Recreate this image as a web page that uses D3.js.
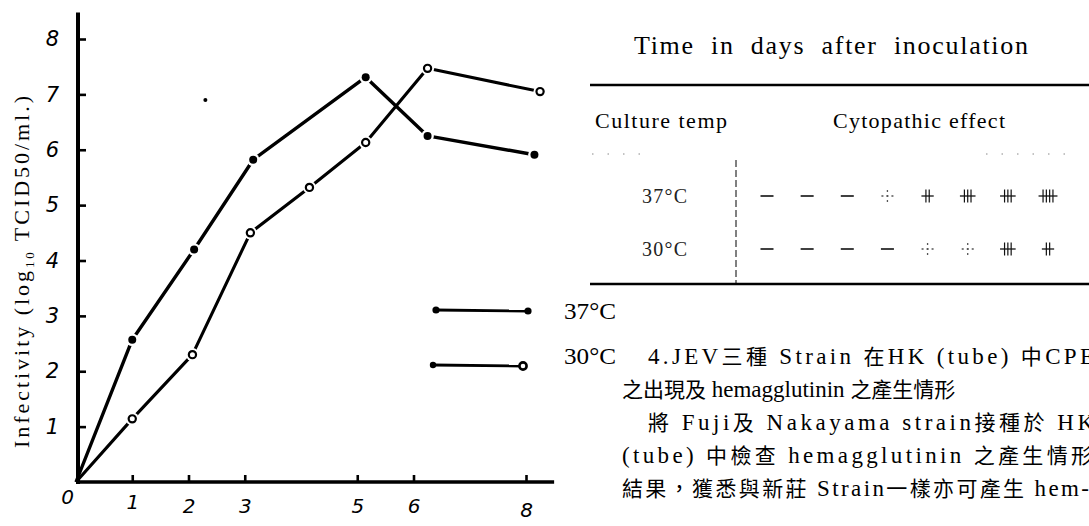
<!DOCTYPE html>
<html>
<head>
<meta charset="utf-8">
<script src="https://cdn.jsdelivr.net/npm/d3@7"></script>
<style>
  html, body { margin: 0; padding: 0; background: #fff; overflow: hidden; }
  svg { display: block; }
  .serif { font-family: "Liberation Serif", "DejaVu Serif", serif; }
  .cjk { font-family: "Liberation Serif", "Noto Sans CJK TC", serif; }
  .hand { font-family: "DejaVu Sans", sans-serif; font-style: italic; }
</style>
</head>
<body>
<svg id="chart" width="1089" height="526"></svg>
<script>
// Infectivity (log10 TCID50/ml) by day after inoculation
const days37 = [0, 1.0, 2.1, 3.15, 5.15, 6.25, 8.15];
const infect37 = [0, 2.57, 4.2, 5.82, 7.31, 6.25, 5.91];
const days30 = [0, 1.0, 2.07, 3.1, 4.15, 5.15, 6.25, 8.25];
const infect30 = [0, 1.14, 2.3, 4.5, 5.32, 6.13, 7.47, 7.05];

const xTicks = [0, 1, 2, 3, 5, 6, 8];
const yTicks = [1, 2, 3, 4, 5, 6, 7, 8];

// Cytopathic effect grades, days 1..8
const cpeDays = [1, 2, 3, 4, 5, 6, 7, 8];
const cpe37 = ["−", "−", "−", "±", "++", "+++", "+++", "++++"];
const cpe30 = ["−", "−", "−", "−", "±", "±", "+++", "++"];
const cultureTemps = ["37°C", "30°C"];

const paragraph = [
  "4.JEV三種 Strain 在HK (tube) 中CPE",
  "之出現及 hemagglutinin 之產生情形",
  "將 Fuji及 Nakayama strain接種於 HK",
  "(tube) 中檢查 hemagglutinin 之產生情形",
  "結果，獲悉與新莊 Strain一樣亦可產生 hem-"
];

const svg = d3.select("#chart");

const x = d3.scaleLinear().domain([0, 8]).range([76, 526]);
const y = d3.scaleLinear().domain([0, 8]).range([482, 39]);

// ---- axes ----
const axX = x(0) + 2;
svg.append("line")
  .attr("x1", axX).attr("x2", axX)
  .attr("y1", y(0) + 2).attr("y2", y(8.48))
  .attr("stroke", "#000").attr("stroke-width", 4);
svg.append("line")
  .attr("x1", x(0)).attr("x2", x(8.5))
  .attr("y1", y(0)).attr("y2", y(0))
  .attr("stroke", "#000").attr("stroke-width", 3.4);

const yAxis = d3.axisLeft(y).tickValues(yTicks).tickSizeInner(-8).tickSizeOuter(0).tickPadding(19);
const gy = svg.append("g").attr("transform", `translate(${axX},0)`).call(yAxis);
gy.select(".domain").remove();
gy.selectAll(".tick line").attr("stroke", "#000").attr("stroke-width", 2.6);
gy.selectAll(".tick text").attr("class", "hand").attr("font-size", 21).attr("fill", "#000");

const xAxis = d3.axisBottom(x).tickValues(xTicks).tickSizeInner(-7).tickSizeOuter(0).tickPadding(17);
const gx = svg.append("g").attr("transform", `translate(0,${y(0)})`).call(xAxis);
gx.select(".domain").remove();
gx.selectAll(".tick line").attr("stroke", "#000").attr("stroke-width", 2.6)
  .attr("display", d => d === 0 ? "none" : null);
gx.selectAll(".tick text").attr("class", "hand").attr("font-size", 20).attr("fill", "#000")
  .attr("dx", d => d === 0 ? -9 : 0)
  .attr("y", d => d === 0 ? 8 : d < 2 ? 13 : d === 8 ? 21 : 17);

// y axis title
const yt = svg.append("text").attr("class", "serif")
  .attr("transform", `translate(29,272) rotate(-90)`)
  .attr("text-anchor", "middle")
  .attr("font-size", 22)
  .attr("textLength", 352).attr("lengthAdjust", "spacing");
yt.append("tspan").text("Infectivity (log");
yt.append("tspan").attr("font-size", 13).attr("dy", 5).text("10");
yt.append("tspan").attr("dy", -5).text(" TCID50/ml.)");

// ---- series ----
const line = d3.line().x(d => x(d[0])).y(d => y(d[1]));
const pts37 = days37.map((d, i) => [d, infect37[i]]);
const pts30 = days30.map((d, i) => [d, infect30[i]]);

svg.append("path").datum(pts37).attr("d", line)
  .attr("fill", "none").attr("stroke", "#000").attr("stroke-width", 3.4).attr("stroke-linejoin", "round");
svg.append("path").datum(pts30).attr("d", line)
  .attr("fill", "none").attr("stroke", "#000").attr("stroke-width", 3.1).attr("stroke-linejoin", "round");

// markers with white halos (the origin has none)
const m37 = svg.append("g").selectAll("g").data(pts37.slice(1)).join("g")
  .attr("transform", d => `translate(${x(d[0])},${y(d[1])})`);
m37.append("circle").attr("r", 6.3).attr("fill", "#fff");
m37.append("circle").attr("r", 4).attr("fill", "#000");

const m30 = svg.append("g").selectAll("g").data(pts30.slice(1)).join("g")
  .attr("transform", d => `translate(${x(d[0])},${y(d[1])})`);
m30.append("circle").attr("r", 6.6).attr("fill", "#fff");
m30.append("circle").attr("r", 3.6).attr("fill", "#fff").attr("stroke", "#000").attr("stroke-width", 2.2);

// stray speck on the plate
svg.append("circle").attr("cx", x(2.3)).attr("cy", y(6.9)).attr("r", 2).attr("fill", "#000");

// ---- legend ----
const leg = svg.append("g");
leg.append("line").attr("x1", 436).attr("x2", 528).attr("y1", 310).attr("y2", 311)
  .attr("stroke", "#000").attr("stroke-width", 2.8);
leg.append("circle").attr("cx", 436).attr("cy", 310).attr("r", 3.6).attr("fill", "#000");
leg.append("circle").attr("cx", 528).attr("cy", 311).attr("r", 3.6).attr("fill", "#000");
leg.append("line").attr("x1", 433).attr("x2", 523).attr("y1", 365).attr("y2", 366)
  .attr("stroke", "#000").attr("stroke-width", 2.8);
leg.append("circle").attr("cx", 433).attr("cy", 365).attr("r", 3.2).attr("fill", "#000");
leg.append("circle").attr("cx", 523).attr("cy", 366).attr("r", 3.6).attr("fill", "#fff")
  .attr("stroke", "#000").attr("stroke-width", 2.6);
leg.selectAll("text").data(cultureTemps).join("text").attr("class", "serif")
  .attr("x", 564).attr("y", (d, i) => [319, 364][i])
  .attr("font-size", 23).attr("textLength", 52).attr("lengthAdjust", "spacingAndGlyphs")
  .text(d => d);

// ---- table ----
const tb = svg.append("g");
tb.append("text").attr("class", "serif").attr("x", 634).attr("y", 54)
  .attr("font-size", 26).attr("word-spacing", 8)
  .attr("textLength", 394).attr("lengthAdjust", "spacing")
  .text("Time in days after inoculation");
tb.append("line").attr("x1", 590).attr("x2", 1089).attr("y1", 85).attr("y2", 85)
  .attr("stroke", "#000").attr("stroke-width", 2.4);
tb.append("text").attr("class", "serif").attr("x", 595).attr("y", 128)
  .attr("font-size", 22).attr("textLength", 132).attr("lengthAdjust", "spacing")
  .text("Culture temp");
tb.append("text").attr("class", "serif").attr("x", 833).attr("y", 128)
  .attr("font-size", 22).attr("textLength", 172).attr("lengthAdjust", "spacing")
  .text("Cytopathic effect");
// faint dotted rule under the header
[[592, 652], [986, 1070]].forEach(([a, b]) => {
  tb.append("line").attr("x1", a).attr("x2", b).attr("y1", 154).attr("y2", 154)
    .attr("stroke", "#888").attr("stroke-width", 1).attr("stroke-dasharray", "1.5,14");
});
tb.append("line").attr("x1", 590).attr("x2", 1089).attr("y1", 284).attr("y2", 284)
  .attr("stroke", "#000").attr("stroke-width", 2.4);
tb.append("line").attr("x1", 736).attr("x2", 736).attr("y1", 160).attr("y2", 284)
  .attr("stroke", "#000").attr("stroke-width", 1).attr("stroke-dasharray", "7,3");

const rowY = d3.scalePoint().domain(cultureTemps).range([196, 249]);
tb.selectAll("text.row").data(cultureTemps).join("text").attr("class", "serif row")
  .attr("x", 642).attr("y", d => rowY(d) + 7)
  .attr("font-size", 20).attr("textLength", 45).attr("lengthAdjust", "spacing")
  .attr("fill", "#222").text(d => d);

const col = d3.scaleLinear().domain([1, 8]).range([767, 1048]);

function drawGrade(g, grade) {
  if (grade === "−") {
    g.append("line").attr("x1", -6.5).attr("x2", 6.5).attr("y1", 0).attr("y2", 0)
      .attr("stroke", "#111").attr("stroke-width", 1.6);
  } else if (grade === "±") {
    g.append("line").attr("x1", -6).attr("x2", 6).attr("y1", 0).attr("y2", 0)
      .attr("stroke", "#555").attr("stroke-width", 1.3).attr("stroke-dasharray", "2,3");
    g.append("line").attr("x1", 0).attr("x2", 0).attr("y1", -6).attr("y2", 6)
      .attr("stroke", "#555").attr("stroke-width", 1.3).attr("stroke-dasharray", "2,3");
  } else {
    const n = grade.length;
    const gap = 3.3;
    const half = (n - 1) * gap / 2;
    g.append("line").attr("x1", -half - 4.5).attr("x2", half + 4.5).attr("y1", 0).attr("y2", 0)
      .attr("stroke", "#111").attr("stroke-width", 1.3);
    d3.range(n).forEach(k => {
      g.append("line").attr("x1", -half + k * gap).attr("x2", -half + k * gap)
        .attr("y1", -6.5).attr("y2", 6.5).attr("stroke", "#111").attr("stroke-width", 1.2);
    });
  }
}
[[cpe37, "37°C"], [cpe30, "30°C"]].forEach(([row, temp]) => {
  row.forEach((grade, i) => {
    const g = tb.append("g").attr("transform", `translate(${col(cpeDays[i])},${rowY(temp)})`);
    drawGrade(g, grade);
  });
});

// ---- body text: Han characters slightly smaller than the Latin runs ----
const lineX = [648, 622, 648, 622, 622];
const lineY = [364, 397, 430, 463, 496];
const lineLen = [446, null, 446, 470, 467];
const hanRun = /([\u3000-\u303f\u4e00-\u9fff\uff00-\uffef]+)/;
const body = svg.append("g").selectAll("text").data(paragraph).join("text").attr("class", "cjk")
  .attr("x", (d, i) => lineX[i]).attr("y", (d, i) => lineY[i])
  .attr("font-size", 23)
  .attr("textLength", (d, i) => lineLen[i])
  .attr("lengthAdjust", "spacing");
body.each(function (d) {
  const t = d3.select(this);
  d.split(hanRun).filter(s => s.length).forEach(s => {
    t.append("tspan").attr("font-size", hanRun.test(s) ? 21 : 23).text(s);
  });
});
</script>
</body>
</html>
